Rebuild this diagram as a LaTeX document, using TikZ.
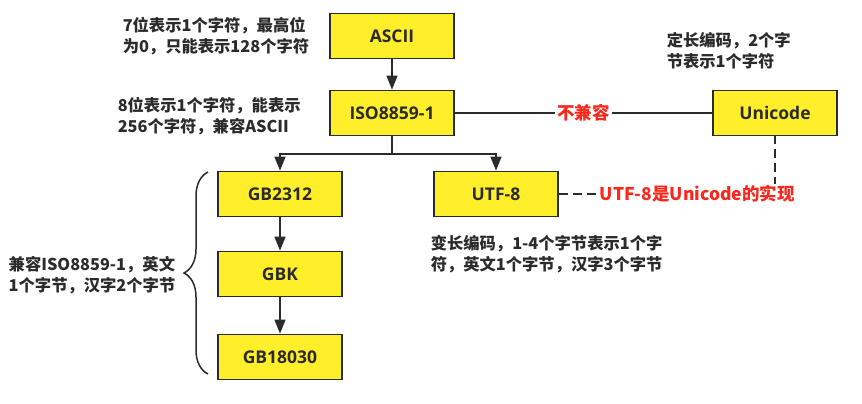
\documentclass[tikz,border=0pt]{standalone}
\usepackage{fontspec}
\setmainfont{Noto Sans CJK SC}
\newfontfamily\boxfont{Open Sans}
\usepackage{tikz}
\usetikzlibrary{arrows.meta}
\usetikzlibrary{decorations.pathreplacing}
\definecolor{boxyellow}{RGB}{255,239,42}
\definecolor{inkgrey}{RGB}{43,43,43}
\definecolor{notered}{RGB}{250,40,28}

\begin{document}
\begin{tikzpicture}
		[x=1pt,y=-1pt,color=inkgrey,line width=1.5pt,
		codebox/.style={draw=inkgrey,line width=1.8pt,fill=boxyellow,minimum width=124pt,minimum height=45pt,inner sep=0pt,font=\boxfont\bfseries\fontsize{17.5}{20}\selectfont},
		note/.style={anchor=west,align=left,inner sep=0pt,font=\bfseries\fontsize{16.3}{21}\selectfont},
		redtext/.style={fill=white,inner sep=2pt,text=notered,font=\bfseries\fontsize{17.5}{20}\selectfont},
		arr/.style={-{Triangle[width=11pt,length=14pt]}}]
		\useasboundingbox (0,0) rectangle (862,404);
		%codes
		\node[codebox] (ascii) at (392,36) {ASCII};
		\node[codebox] (iso) at (392,113) {ISO8859-1};
		\node[codebox] (uni) at (775,113) {Unicode};
		\node[codebox] (gb2312) at (280,194) {GB2312};
		\node[codebox] (gbk) at (280,274) {GBK};
		\node[codebox] (gb18030) at (280,357) {GB18030};
		\node[codebox] (utf8) at (496,194) {UTF-8};
		%notes
		\node[note] (asciinote) at (122,36) {7位表示1个字符，最高位\\为0，只能表示128个字符};
		\node[note] (isonote) at (117,116) {8位表示1个字符，能表示\\256个字符，兼容ASCII};
		\node[note] (uninote) at (666,51) {定长编码，2个字\\节表示1个字符};
		\node[note] (utfnote) at (430,254) {变长编码，1-4个字节表示1个字\\符，英文1个字节，汉字3个字节};
		\node[note] (gbnote) at (8,275) {兼容ISO8859-1，英文\\1个字节，汉字2个字节};
		%edges
		\coordinate (split) at (392,154);
		\draw[arr] (ascii) -- (iso);
		\draw (iso) -- (split);
		\foreach \to in {gb2312,utf8}
		\draw[arr] (split) -| (\to);
		\foreach \from/\to in {gb2312/gbk,gbk/gb18030}
		\draw[arr] (\from) -- (\to);
		\draw (iso) -- node[redtext] (notcompat) {不兼容} (uni);
		\draw[dash pattern=on 9pt off 5pt] (utf8) -| node[redtext,pos=0.32] (impl) {UTF-8是Unicode的实现} (uni);
		\draw[decorate,decoration={brace,amplitude=24pt}] (208,374) -- (208,172);
	\end{tikzpicture}
\end{document}
